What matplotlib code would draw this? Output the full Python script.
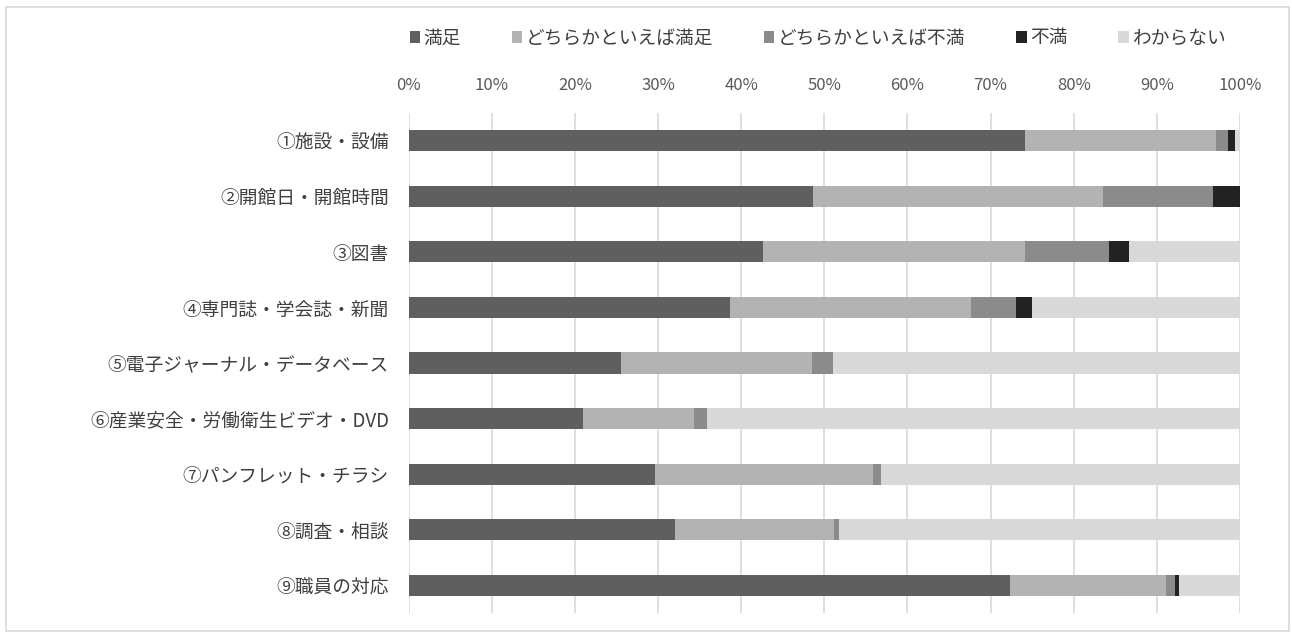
import numpy as np
import matplotlib
matplotlib.use('Agg')
import matplotlib.pyplot as plt
from matplotlib.patches import Rectangle

plt.rcParams['font.family'] = ['Noto Sans CJK JP', 'DejaVu Sans']

categories = ['①施設・設備', '②開館日・開館時間', '③図書', '④専門誌・学会誌・新聞',
              '⑤電子ジャーナル・データベース', '⑥産業安全・労働衛生ビデオ・DVD',
              '⑦パンフレット・チラシ', '⑧調査・相談', '⑨職員の対応']
series_names = ['満足', 'どちらかといえば満足', 'どちらかといえば不満', '不満', 'わからない']
manzoku = [74.1, 48.7, 42.6, 38.7, 25.5, 21.0, 29.6, 32.1, 72.3]
yaya_manzoku = [23.0, 34.8, 31.6, 28.9, 23.0, 13.3, 26.3, 19.1, 18.8]
yaya_fuman = [1.5, 13.2, 10.0, 5.5, 2.5, 1.6, 0.9, 0.6, 1.1]
fuman = [0.8, 3.3, 2.5, 1.9, 0.0, 0.0, 0.0, 0.0, 0.5]
wakaranai = [0.6, 0.0, 13.3, 25.0, 49.0, 64.1, 43.2, 48.2, 7.3]
xticks = np.arange(0, 101, 10)

colors = ['#5f5f5f', '#b3b3b3', '#8b8b8b', '#222222', '#d9d9d9']
text_col = '#595959'

fig = plt.figure(figsize=(12.92, 6.37), dpi=100)
ax = fig.add_axes([408.5 / 1292, 1 - 613 / 637, (1240 - 408.5) / 1292, 500 / 637])

y = np.arange(len(categories))
left = np.zeros(len(categories))
for name, vals, c in zip(series_names,
                         [manzoku, yaya_manzoku, yaya_fuman, fuman, wakaranai],
                         colors):
    vals = np.array(vals)
    ax.barh(y, vals, left=left, height=0.38, color=c, label=name, zorder=3)
    left += vals

ax.set_xlim(0, 100)
ax.set_ylim(len(categories) - 0.5, -0.5)
ax.set_xticks(xticks)
ax.set_xticklabels([f'{t}%' for t in xticks])
ax.xaxis.tick_top()
ax.set_yticks(y)
ax.set_yticklabels(categories)
ax.tick_params(axis='x', length=0, pad=14, labelsize=12, labelcolor=text_col)
ax.tick_params(axis='y', length=0, pad=14, labelsize=13.5, labelcolor='#404040')
ax.grid(axis='x', color='#d9d9d9', linewidth=1.2, zorder=0)
for s in ax.spines.values():
    s.set_visible(False)

fig.legend(loc='center', bbox_to_anchor=(818 / 1292, 1 - 38 / 637), ncol=5,
           frameon=False, fontsize=13.5, handlelength=0.55, handleheight=0.55,
           handletextpad=0.2, columnspacing=2.7, labelcolor='#404040')

fig.patches.append(Rectangle((6 / 1292, 1 - 631 / 637), 1283 / 1292, 624 / 637,
                             transform=fig.transFigure, fill=False,
                             edgecolor='#d9d9d9', linewidth=1.2))

fig.savefig('out.png', dpi=100, facecolor='white')
